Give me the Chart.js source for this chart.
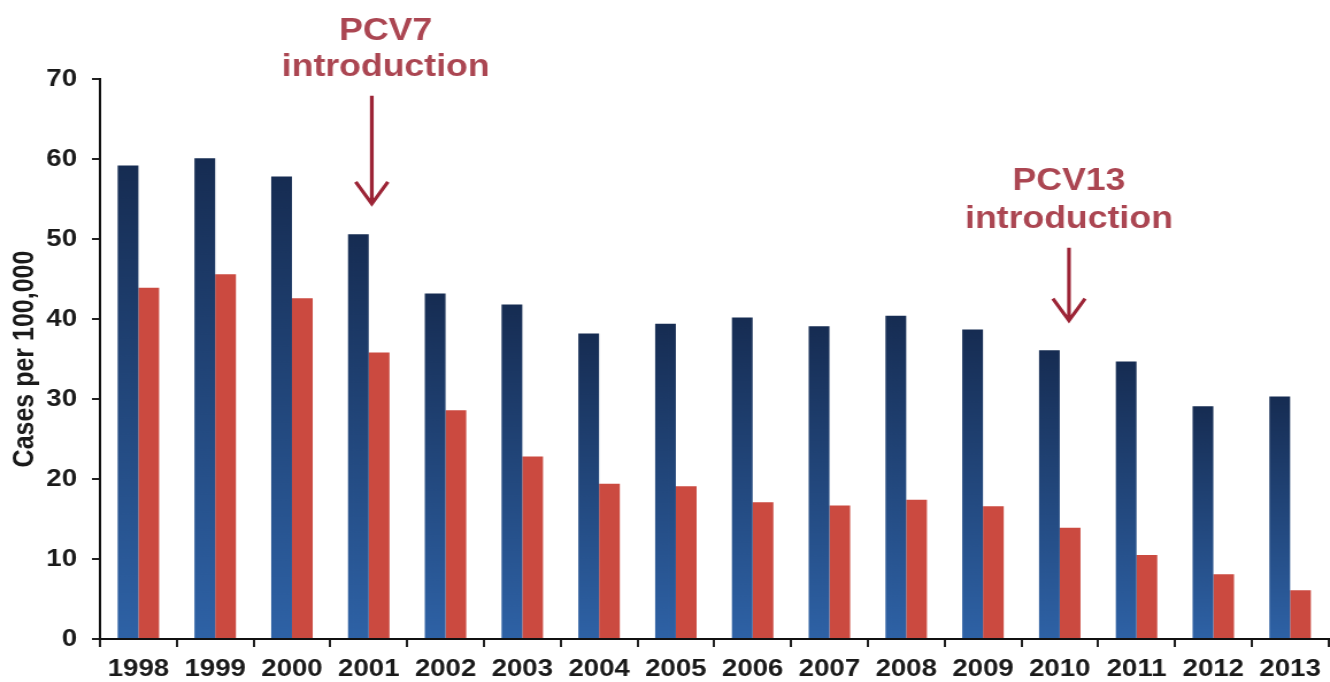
<!DOCTYPE html>
<html>
<head>
<meta charset="utf-8">
<script src="https://cdn.jsdelivr.net/npm/chart.js@4/dist/chart.umd.min.js"></script>
<style>
  html, body { margin: 0; padding: 0; background: #fff; overflow: hidden; }
  /* the source picture is stretched sideways, so the whole chart is too */
  #wrap { width: 1157px; height: 682px; transform: scaleX(1.1495); transform-origin: 0 0; }
</style>
</head>
<body>
<div id="wrap"><canvas id="casesChart"></canvas></div>
<script>
// data
const years = ['1998', '1999', '2000', '2001', '2002', '2003', '2004', '2005',
               '2006', '2007', '2008', '2009', '2010', '2011', '2012', '2013'];
const blueSeries = [59.2, 60.1, 57.8, 50.6, 43.2, 41.8, 38.2, 39.4,
                    40.2, 39.1, 40.4, 38.7, 36.1, 34.7, 29.1, 30.3];
const redSeries = [43.9, 45.6, 42.6, 35.8, 28.6, 22.8, 19.4, 19.1,
                   17.1, 16.7, 17.4, 16.6, 13.9, 10.5, 8.1, 6.1];
const yTicks = [0, 10, 20, 30, 40, 50, 60, 70];
const yTitle = 'Cases per 100,000';
const notes = [
  { lines: ['PCV7', 'introduction'], year: '2001' },
  { lines: ['PCV13', 'introduction'], year: '2010' }
];

const FONT = '"Liberation Sans", Arial, sans-serif';

// dark navy at the top of each bar, lighter blue at the bottom
function blueFill(c) {
  const chart = c.chart;
  if (!chart.chartArea || c.type !== 'data') return '#24508c';
  const y = chart.scales.y;
  const top = y.getPixelForValue(c.raw);
  const bottom = y.getPixelForValue(0);
  const g = chart.ctx.createLinearGradient(0, top, 0, bottom);
  g.addColorStop(0, '#162c52');
  g.addColorStop(1, '#2e62a6');
  return g;
}

// arrows and labels for the vaccine introductions
const notePlacement = [
  { textDx: 0.22, arrowDx: 0.04, text: [76.0, 71.5], arrow: [67.9, 54.4] },
  { textDx: 0.12, arrowDx: 0.12, text: [57.2, 52.4], arrow: [48.9, 39.8] }
];

const introNotes = {
  id: 'introNotes',
  afterDraw(chart) {
    const { ctx, scales: { x, y } } = chart;
    const step = x.getPixelForValue(1) - x.getPixelForValue(0);
    notes.forEach((n, i) => {
      const p = notePlacement[i];
      const cx = x.getPixelForValue(years.indexOf(n.year));
      ctx.save();
      ctx.fillStyle = '#ab4652';
      ctx.font = 'bold 31px ' + FONT;
      ctx.textAlign = 'center';
      ctx.textBaseline = 'middle';
      n.lines.forEach((t, k) => {
        ctx.fillText(t, cx + p.textDx * step, y.getPixelForValue(p.text[k]));
      });
      const ax = cx + p.arrowDx * step;
      const y0 = y.getPixelForValue(p.arrow[0]);
      const y1 = y.getPixelForValue(p.arrow[1]);
      ctx.strokeStyle = '#9c2436';
      ctx.lineWidth = 3.2;
      ctx.beginPath();
      ctx.moveTo(ax, y0);
      ctx.lineTo(ax, y1);
      ctx.moveTo(ax - 14, y1 - 22);
      ctx.lineTo(ax, y1);
      ctx.lineTo(ax + 14, y1 - 22);
      ctx.stroke();
      ctx.restore();
    });
  }
};

new Chart(document.getElementById('casesChart'), {
  type: 'bar',
  data: {
    labels: years,
    datasets: [
      { data: blueSeries, backgroundColor: blueFill, categoryPercentage: 0.54, barPercentage: 1.0 },
      { data: redSeries, backgroundColor: '#cb4a40', categoryPercentage: 0.54, barPercentage: 1.0 }
    ]
  },
  options: {
    responsive: true,
    maintainAspectRatio: false,
    animation: false,
    layout: { padding: { top: 79, left: 0, right: 0, bottom: 0 } },
    plugins: {
      legend: { display: false },
      tooltip: { enabled: false }
    },
    scales: {
      x: {
        afterFit(scale) { scale.height = 43; },
        grid: { display: true, drawOnChartArea: false, offset: true, tickLength: 8, color: '#222', lineWidth: 2 },
        border: { display: true, color: '#111', width: 2 },
        ticks: { color: '#1a1a1a', padding: 8, maxRotation: 0, font: { family: FONT, size: 24, weight: 'bold' } }
      },
      y: {
        min: 0,
        max: 70,
        afterBuildTicks(scale) { scale.ticks = yTicks.map(v => ({ value: v })); },
        afterFit(scale) { scale.width = 87; },
        grid: { display: true, drawOnChartArea: false, tickLength: 7, color: '#222', lineWidth: 2 },
        border: { display: true, color: '#111', width: 2 },
        ticks: { color: '#1a1a1a', padding: 13, font: { family: FONT, size: 24, weight: 'bold' } },
        title: {
          display: true,
          text: yTitle,
          color: '#1a1a1a',
          padding: { top: 7, bottom: 0 },
          font: { family: FONT, size: 25, weight: 'bold' }
        }
      }
    }
  },
  plugins: [introNotes]
});
</script>
</body>
</html>
